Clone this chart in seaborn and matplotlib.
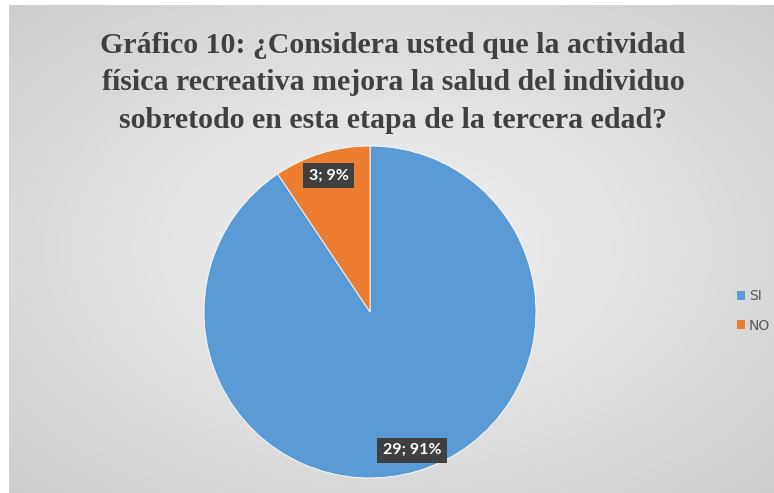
import numpy as np
import matplotlib
matplotlib.use("Agg")
import matplotlib.pyplot as plt
import seaborn as sns
from matplotlib.patches import Patch

sns.set_theme(style="white")

categories = ["SI", "NO"]
values = [29, 3]
percents = ["91%", "9%"]
colors = ["#5B9BD5", "#ED7D31"]

W, H = 774, 493
fig = plt.figure(figsize=(W / 100, H / 100), dpi=100)
fig.patch.set_facecolor("white")

# background panel with radial gradient
bg = fig.add_axes([9 / W, 0, 1 - 9 / W, 1 - 5 / H])
bg.set_axis_off()
yy, xx = np.mgrid[-1:1:300j, -1:1:400j]
rr = np.sqrt(xx ** 2 + yy ** 2) / np.sqrt(2)
grad = 0.955 - 0.15 * rr
img = np.dstack([grad, grad, grad])
bg.imshow(img, aspect="auto", extent=[0, 1, 0, 1], interpolation="bilinear")
bg.set_xlim(0, 1)
bg.set_ylim(0, 1)

# title
fig.text(393 / W, 1 - 83 / H,
         "Gráfico 10: ¿Considera usted que la actividad\n"
         "física recreativa mejora la salud del individuo\n"
         "sobretodo en esta etapa de la tercera edad?",
         ha="center", va="center", fontsize=21.5, fontweight="bold",
         family="Liberation Serif", color="#404040", linespacing=1.5)

# pie
cx, cy, r = 370, 312, 166
ax = fig.add_axes([(cx - r) / W, (H - cy - r) / H, 2 * r / W, 2 * r / H])
wedges, _ = ax.pie(values, colors=colors, startangle=90, counterclock=False,
                   wedgeprops=dict(linewidth=0.6, edgecolor="white"))
ax.set_aspect("equal")
ax.set_xlim(-1, 1)
ax.set_ylim(-1, 1)

label_dist = [0.87, 0.86]
for w, v, p, d in zip(wedges, values, percents, label_dist):
    ang = np.deg2rad((w.theta1 + w.theta2) / 2)
    ax.text(d * np.cos(ang), d * np.sin(ang), f"{v}; {p}",
            ha="center", va="center", fontsize=11.5, fontweight="bold",
            color="white", family="Lato", clip_on=False,
            bbox=dict(boxstyle="square,pad=0.35", facecolor="#404040",
                      edgecolor="none"))

# legend
handles = [Patch(facecolor=c, edgecolor="none", label=l)
           for c, l in zip(colors, categories)]
fig.legend(handles=handles, loc="center left",
           bbox_to_anchor=(724 / W, 1 - 311 / H), frameon=False,
           fontsize=10, handlelength=0.6, handleheight=0.6,
           handletextpad=0.3, labelspacing=1.1, labelcolor="#595959")

fig.savefig("out.png", dpi=100)
